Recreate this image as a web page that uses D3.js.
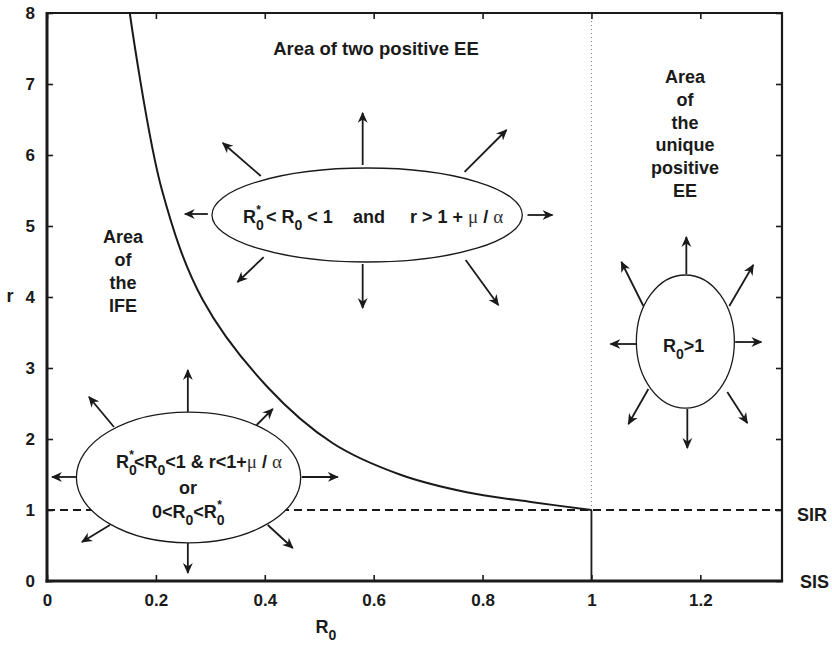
<!DOCTYPE html>
<html><head><meta charset="utf-8">
<script src="https://cdn.jsdelivr.net/npm/d3@7"></script>
<style>
body{margin:0;background:#fff;}
text{font-family:"Liberation Sans",Arial,Helvetica,sans-serif;fill:#1a1a1a;}
</style></head>
<body><svg id="chart" width="832" height="649"></svg>
<script>
// ---------- data ----------
const xTicks = [0, 0.2, 0.4, 0.6, 0.8, 1, 1.2];
const xTickLabels = ["0", "0.2", "0.4", "0.6", "0.8", "1", "1.2"];
const yTicks = [0, 1, 2, 3, 4, 5, 6, 7, 8];
const yTickLabels = ["0", "1", "2", "3", "4", "5", "6", "7", "8"];
// boundary curve (R0, r)
const curveR0 = [0.152, 0.211, 0.286, 0.404, 0.525, 0.648, 0.771, 0.892, 1.0];
const curveR  = [8.0, 5.51, 3.96, 2.74, 1.94, 1.50, 1.25, 1.11, 1.0];
// ellipses: [cx, cy, rx, ry] in data units
const ellipseIFE = [0.26, 1.458, 0.206, 0.92];
const ellipseTwo = [0.588, 5.155, 0.285, 0.662];
const ellipseUni = [1.1725, 3.373, 0.09, 0.937];
// arrows: [x1, y1, x2, y2] in data units
const arrowsIFE = [
  [0.2587, 2.380, 0.2587, 2.972], [0.0532, 1.465, 0.0092, 1.465],
  [0.468, 1.465, 0.534, 1.465],   [0.2587, 0.535, 0.2587, 0.113],
  [0.123, 2.169, 0.0771, 2.592],  [0.385, 2.197, 0.4147, 2.423],
  [0.1156, 0.789, 0.0642, 0.549], [0.4055, 0.789, 0.4514, 0.465]
];
const arrowsTwo = [
  [0.5798, 5.859, 0.5798, 6.592], [0.5798, 4.465, 0.5798, 3.845],
  [0.2954, 5.169, 0.2532, 5.169], [0.8826, 5.155, 0.9284, 5.155],
  [0.3927, 5.704, 0.3229, 6.169], [0.767, 5.761, 0.844, 6.352],
  [0.398, 4.563, 0.350, 4.211],   [0.769, 4.521, 0.829, 3.887]
];
const arrowsUni = [
  [1.1743, 4.324, 1.1743, 4.845], [1.1761, 2.423, 1.1761, 1.873],
  [1.0826, 3.338, 1.0349, 3.338], [1.264, 3.366, 1.312, 3.366],
  [1.0954, 3.873, 1.055, 4.493],  [1.2532, 3.873, 1.2972, 4.451],
  [1.1046, 2.704, 1.0679, 2.211], [1.2495, 2.662, 1.2862, 2.225]
];
const sirLevel = 1;
const r0Threshold = 1;

// ---------- layout ----------
const W = 832, H = 649;
const margin = {left: 47, right: 50, top: 13, bottom: 68};
const svg = d3.select("#chart");
const x = d3.scaleLinear().domain([0, 1.35]).range([margin.left, W - margin.right]);
const y = d3.scaleLinear().domain([0, 8]).range([H - margin.bottom, margin.top]);
const ink = "#1a1a1a";

svg.append("defs").append("marker")
  .attr("id", "arr").attr("viewBox", "0 -5 10 10")
  .attr("refX", 9).attr("refY", 0)
  .attr("markerWidth", 11).attr("markerHeight", 11)
  .attr("markerUnits", "userSpaceOnUse").attr("orient", "auto")
  .append("path").attr("d", "M0,-4.5L10,0L0,4.5L3,0Z").attr("fill", ink);

// dashed SIR line
svg.append("line")
  .attr("x1", x(0)).attr("x2", x(1.35)).attr("y1", y(sirLevel)).attr("y2", y(sirLevel))
  .attr("stroke", ink).attr("stroke-width", 1.8).attr("stroke-dasharray", "8,5");
// dotted vertical R0 = 1 above r = 1
svg.append("line")
  .attr("x1", x(r0Threshold)).attr("x2", x(r0Threshold)).attr("y1", y(sirLevel)).attr("y2", y(8))
  .attr("stroke", "#777").attr("stroke-width", 1).attr("stroke-dasharray", "1,3");
// solid vertical R0 = 1 below r = 1
svg.append("line")
  .attr("x1", x(r0Threshold)).attr("x2", x(r0Threshold)).attr("y1", y(0)).attr("y2", y(sirLevel))
  .attr("stroke", ink).attr("stroke-width", 1.8);

// boundary curve
const curvePts = curveR0.map((v, i) => [v, curveR[i]]);
svg.append("path").datum(curvePts)
  .attr("d", d3.line().x(d => x(d[0])).y(d => y(d[1])).curve(d3.curveCatmullRom.alpha(0.5)))
  .attr("fill", "none").attr("stroke", ink).attr("stroke-width", 2);

// ellipses and arrows
function drawEllipse(e) {
  svg.append("ellipse")
    .attr("cx", x(e[0])).attr("cy", y(e[1]))
    .attr("rx", x(e[2]) - x(0)).attr("ry", y(0) - y(e[3]))
    .attr("fill", "#fff").attr("stroke", ink).attr("stroke-width", 1.3);
}
function drawArrows(arr) {
  svg.append("g").selectAll("line").data(arr).join("line")
    .attr("x1", d => x(d[0])).attr("y1", d => y(d[1]))
    .attr("x2", d => x(d[2])).attr("y2", d => y(d[3]))
    .attr("stroke", ink).attr("stroke-width", 1.8)
    .attr("marker-end", "url(#arr)");
}
[ellipseIFE, ellipseTwo, ellipseUni].forEach(drawEllipse);
[arrowsIFE, arrowsTwo, arrowsUni].forEach(drawArrows);

// frame: thicker left/bottom
svg.append("line").attr("x1", x(0)).attr("x2", x(1.35)).attr("y1", y(8)).attr("y2", y(8))
  .attr("stroke", ink).attr("stroke-width", 2.2);
svg.append("line").attr("x1", x(1.35)).attr("x2", x(1.35)).attr("y1", y(8) - 1).attr("y2", y(0) + 1)
  .attr("stroke", ink).attr("stroke-width", 2.2);
svg.append("line").attr("x1", x(0)).attr("x2", x(0)).attr("y1", y(8) - 1.1).attr("y2", y(0) + 1.5)
  .attr("stroke", ink).attr("stroke-width", 3);
svg.append("line").attr("x1", x(0) - 1.5).attr("x2", x(1.35) + 1.1).attr("y1", y(0)).attr("y2", y(0))
  .attr("stroke", ink).attr("stroke-width", 3);

// axes with inward ticks
const tickLen = 6;
const axB = svg.append("g").attr("transform", `translate(0,${y(0)})`)
  .call(d3.axisBottom(x).tickValues(xTicks).tickSize(-tickLen).tickPadding(13)
        .tickFormat((d, i) => xTickLabels[i]));
const axT = svg.append("g").attr("transform", `translate(0,${y(8)})`)
  .call(d3.axisTop(x).tickValues(xTicks).tickSize(-tickLen).tickFormat(""));
const axL = svg.append("g").attr("transform", `translate(${x(0)},0)`)
  .call(d3.axisLeft(y).tickValues(yTicks).tickSize(-tickLen).tickPadding(12)
        .tickFormat((d, i) => yTickLabels[i]));
const axR = svg.append("g").attr("transform", `translate(${x(1.35)},0)`)
  .call(d3.axisRight(y).tickValues(yTicks).tickSize(-tickLen).tickFormat(""));
[axB, axT, axL, axR].forEach(a => {
  a.select(".domain").remove();
  a.selectAll(".tick line").attr("stroke", ink).attr("stroke-width", 1.6);
  a.selectAll(".tick text").attr("fill", ink).attr("font-size", 17).attr("font-weight", "bold")
    .attr("font-family", '"Liberation Sans", Arial, sans-serif');
});
axB.selectAll(".tick text").attr("dy", "0.71em");

// rich text helper
const FS = 18;
function rich(px, py, segs, anchor) {
  const t = svg.append("text").attr("x", px).attr("y", py)
    .attr("text-anchor", anchor || "start").attr("font-size", FS).attr("font-weight", "bold")
    .attr("xml:space", "preserve");
  let off = 0;
  segs.forEach(s => {
    const ts = t.append("tspan");
    if (s.sub) {
      ts.text(s.t).attr("font-size", 14).attr("dy", 7 - off); off = 7;
    } else if (s.star) {
      ts.text("*").attr("font-size", 12).attr("dx", -7.5).attr("dy", -9 - off); off = -9;
    } else {
      ts.text(s.t).attr("dy", 0 - off); off = 0;
      if (s.sym) ts.attr("font-family", '"Liberation Serif","DejaVu Serif",serif').attr("font-weight", "normal").attr("font-size", 19).attr("fill", "#333");
    }
  });
  return t;
}
const R0s = [{t: "R"}, {t: "0", sub: true}, {star: true}];
const R0 = [{t: "R"}, {t: "0", sub: true}];

// ellipse labels
rich(116, 468, [...R0s, {t: "<"}, ...R0, {t: "<1 & r<1+"}, {t: "μ", sym: true}, {t: " / "}, {t: "α", sym: true}]);
rich(188, 494, [{t: "or"}], "middle");
rich(152, 518, [{t: "0<"}, ...R0, {t: "<"}, ...R0s]);

rich(243, 223, [...R0s, {t: " < "}, ...R0, {t: " < 1"}]);
rich(353, 223, [{t: "and"}]);
rich(410, 223, [{t: "r > 1 + "}, {t: "μ", sym: true}, {t: " / "}, {t: "α", sym: true}]);

rich(663, 352, [...R0, {t: ">1"}]);

// region labels
rich(376, 55, [{t: "Area of two positive EE"}], "middle").attr("font-size", 18.5);
["Area", "of", "the", "IFE"].forEach((s, i) => rich(123, 243 + i * 23, [{t: s}], "middle"));
["Area", "of", "the", "unique", "positive", "EE"].forEach((s, i) => rich(685, 83 + i * 22.8, [{t: s}], "middle"));

// SIR / SIS
rich(797, 521, [{t: "SIR"}]);
rich(800, 588, [{t: "SIS"}]);

// axis titles
rich(326, 633, R0, "middle");
rich(10, 302, [{t: "r"}], "middle");
</script></body></html>
